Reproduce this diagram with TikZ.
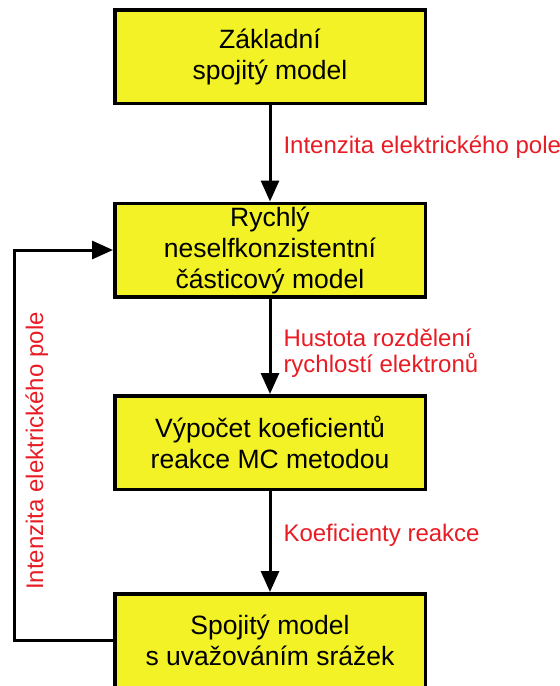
\documentclass[tikz,border=0pt]{standalone}
\usepackage{fontspec}
\setmainfont{Liberation Sans}
\usetikzlibrary{arrows.meta}
\definecolor{boxyellow}{RGB}{242,242,38}
\definecolor{notered}{RGB}{232,28,36}

\begin{document}
\begin{tikzpicture}[
    font=\fontsize{26.5}{31}\selectfont,
      >={Triangle[length=21pt,width=18pt]},
      x=1pt, y=-1pt,
      model/.style={rectangle, draw=black, fill=boxyellow, line width=3.5pt, align=center, text=black, minimum width=310.5pt, minimum height=93.5pt, inner sep=0pt},
      transfer/.style={text=notered, font=\fontsize{24}{26}\selectfont, align=left, inner sep=0pt},
      arrow/.style={->, line width=3pt, draw=black}
    ]
      \useasboundingbox (0,0) rectangle (560,686);
      \node[model] (basic) at (270,56.5) {Základní\\spojitý model};
      \node[model] (fast) at (270,250) {Rychlý\\neselfkonzistentní\\částicový model};
      \node[model] (rates) at (270,442.5) {Výpočet koeficientů\\reakce MC metodou};
      \node[model] (collisions) at (270,640.5) {Spojitý model\\s uvažováním srážek};
      \coordinate (loop) at (14,451);

      \draw[arrow] (basic) -- node[transfer, anchor=base west, xshift=12pt] {Intenzita elektrického pole} (fast);
      \draw[arrow] (fast) -- node[transfer, anchor=base west, xshift=12pt, yshift=-26pt] {Hustota rozdělení\\rychlostí elektronů} (rates);
      \draw[arrow] (rates) -- node[transfer, anchor=base west, xshift=12pt] {Koeficienty reakce} (collisions);
      \draw[arrow] (collisions.west) -- (collisions.west -| loop) |- (fast.west);
      \node[transfer, rotate=90, anchor=base] (fieldnote) at ([xshift=29pt]loop) {Intenzita elektrického pole};
    \end{tikzpicture}
\end{document}
